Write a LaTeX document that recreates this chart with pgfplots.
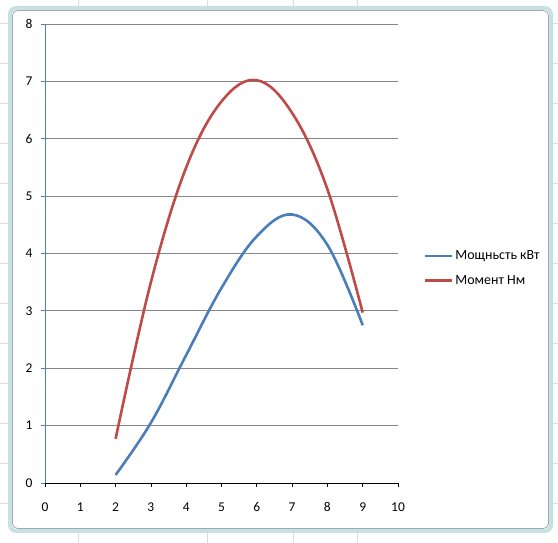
\documentclass[border=0pt]{standalone}
\usepackage{pgfplots}
\pgfplotsset{compat=1.18}
\usepackage{fontspec}
\setmainfont{Carlito}
\definecolor{xlblue}{RGB}{74,126,187}
\definecolor{xlred}{RGB}{190,75,72}
\definecolor{xlaxis}{RGB}{79,129,189}
\definecolor{xlgrid}{RGB}{134,134,134}
\definecolor{frameout}{RGB}{200,226,228}
\definecolor{framein}{RGB}{160,170,172}
\definecolor{cellline}{RGB}{218,222,226}
\begin{document}
\begin{tikzpicture}
\useasboundingbox (0bp,0bp) rectangle (558bp,543bp);
% spreadsheet cell lines outside the chart
\foreach \xx in {78,207,293,357} {\draw[cellline,line width=0.7bp] (\xx bp,0bp) -- (\xx bp,10bp);\draw[cellline,line width=0.7bp] (\xx bp,536bp) -- (\xx bp,543bp);}
\foreach \yy in {40,80,120,160,200,240,280,320,360,400,440,480,520} {\draw[cellline,line width=0.7bp] (0bp,\yy bp) -- (8bp,\yy bp);\draw[cellline,line width=0.7bp] (552bp,\yy bp) -- (558bp,\yy bp);}
\draw[frameout,line width=4bp,rounded corners=6bp] (10bp,12bp) rectangle (551bp,535bp);
\draw[framein,line width=0.8bp,rounded corners=5bp] (12.5bp,14.5bp) rectangle (548.5bp,532.5bp);
\begin{axis}[
  at={(45bp,60bp)}, anchor=south west,
  scale only axis, width=353bp, height=459bp,
  xmin=0, xmax=10, ymin=0, ymax=8,
  xtick={0,1,...,10}, ytick={0,1,...,8},
  axis lines=left,
  axis line style={-},
  x axis line style={black, line width=0.9bp},
  y axis line style={xlaxis, line width=0.9bp},
  tick align=outside,
  major tick length=4bp,
  xtick style={black, line width=0.8bp},
  ytick style={xlaxis, line width=0.8bp},
  ymajorgrids,
  grid style={xlgrid, line width=0.8bp},
  /pgf/number format/assume math mode=true,
  tick label style={font=\fontsize{13.5}{16}\selectfont, black},
  xticklabel style={yshift=-12bp},
  yticklabel style={xshift=-5bp},
  legend style={at={(1.073,0.468)}, anchor=west, draw=none, fill=none,
    font=\fontsize{14}{16}\selectfont, row sep=10bp, inner sep=0pt},
  legend cell align=left,
  legend image code/.code={\draw[#1, line width=2.5bp] (0bp,0bp) -- (27bp,0bp);},
  clip=false,
]
\addplot[xlblue, line width=2.6bp, smooth, tension=0.62] coordinates {
 (2,0.14) (3,1.05) (4,2.23) (5,3.4) (6,4.3) (7,4.68) (8,4.15) (9,2.75)};
\addlegendentry{Мощньсть кВт}
\addplot[xlred, line width=2.6bp, smooth, tension=0.62] coordinates {
 (2,0.77) (3,3.5) (4,5.5) (5,6.65) (6,7.02) (7,6.45) (8,5.12) (9,2.97)};
\addlegendentry{Момент Нм}
\end{axis}
\end{tikzpicture}
\end{document}
